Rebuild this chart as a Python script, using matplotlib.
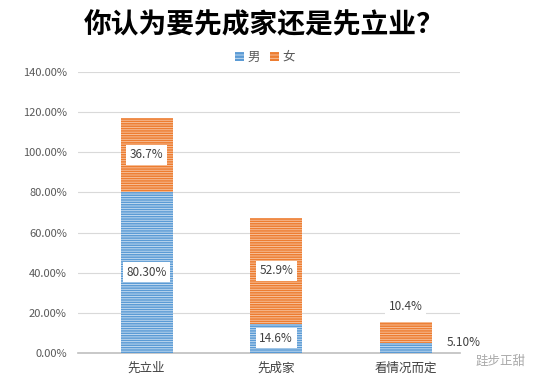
import matplotlib
matplotlib.use("Agg")
import matplotlib.pyplot as plt
import matplotlib.ticker as mticker
from matplotlib.patches import Patch

plt.rcParams['font.family'] = ['Noto Sans CJK SC', 'DejaVu Sans']
plt.rcParams['hatch.linewidth'] = 0.6

categories = ['先立业', '先成家', '看情况而定']
male = [80.3, 14.6, 5.1]
female = [36.7, 52.9, 10.4]
male_labels = ['80.30%', '14.6%', '5.10%']
female_labels = ['36.7%', '52.9%', '10.4%']
title = '你认为要先成家还是先立业？'

blue = '#5b9bd5'
orange = '#ed7d31'

fig = plt.figure(figsize=(5.33, 3.83), dpi=100)
ax = fig.add_axes([78/533, 1-353/383, (460-78)/533, (353-72)/383])

x = list(range(len(categories)))
w = 0.40
bm = ax.bar(x, male, w, color=blue, edgecolor='#cfe2f3', hatch='-------', linewidth=0, zorder=3)
bf = ax.bar(x, female, w, bottom=male, color=orange, edgecolor='#f8c9a8', hatch='-------', linewidth=0, zorder=3)

box = dict(boxstyle='square,pad=0.3', fc='white', ec='none')
for i in range(len(categories)):
    if i < 2:
        ax.text(i, male[i]/2, male_labels[i], ha='center', va='center', fontsize=8.5,
                color='#404040', bbox=box, zorder=5)
        ax.text(i, male[i] + female[i]/2, female_labels[i], ha='center', va='center',
                fontsize=8.5, color='#404040', bbox=box, zorder=5)
    else:
        ax.text(i, male[i] + female[i] + 7.5, female_labels[i], ha='center', va='center',
                fontsize=8.5, color='#404040', bbox=box, zorder=5)
        ax.text(i + 0.45, male[i] + 0.3, male_labels[i], ha='center', va='center',
                fontsize=8.5, color='#404040', zorder=5)

ax.set_xlim(-0.53, 2.42)
ax.set_ylim(0, 140)
ax.set_yticks(range(0, 141, 20))
ax.yaxis.set_major_formatter(mticker.FuncFormatter(lambda v, p: f'{v:.2f}%'))
ax.set_xticks(x)
ax.set_xticklabels(categories, fontsize=9, color='#404040')
ax.tick_params(axis='y', labelsize=8, colors='#595959', length=0, pad=8)
ax.tick_params(axis='x', length=0, pad=6)
ax.grid(axis='y', color='#d9d9d9', linewidth=0.8, zorder=0)
for s in ['top', 'right', 'left']:
    ax.spines[s].set_visible(False)
ax.spines['bottom'].set_color('#bfbfbf')
ax.spines['bottom'].set_linewidth(1.2)

fig.text(264/533, 1-25/383, title, ha='center', va='center', fontsize=20, fontweight='bold', color='black')

handles = [Patch(facecolor=blue, edgecolor='#cfe2f3', hatch='-----', linewidth=0),
           Patch(facecolor=orange, edgecolor='#f8c9a8', hatch='-----', linewidth=0)]
fig.legend(handles, ['男', '女'], loc='center', bbox_to_anchor=(265/533, 1-57/383), ncol=2,
           frameon=False, fontsize=9, handlelength=0.7, handleheight=0.7, handletextpad=0.3,
           columnspacing=0.8, labelcolor='#595959')

fig.text(476/533, 1-361/383, '跬步正甜', ha='left', va='center', fontsize=9, color='#aaaaaa')

fig.savefig('out.png', dpi=100)
